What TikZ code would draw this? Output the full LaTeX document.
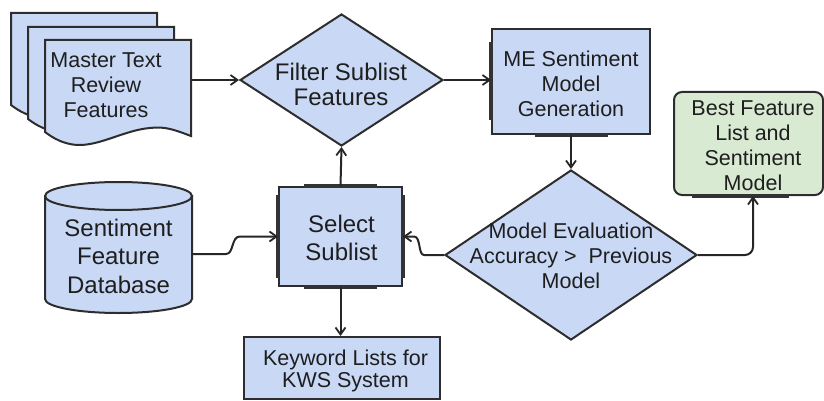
\documentclass[tikz,border=0pt]{standalone}
\usepackage{fontspec}
\setmainfont{Liberation Sans}
\usetikzlibrary{shapes.geometric,arrows.meta}
\definecolor{boxblue}{RGB}{201,216,245}
\definecolor{boxgreen}{RGB}{217,234,211}
\definecolor{edgecol}{RGB}{45,45,45}
\definecolor{txtcol}{RGB}{30,30,30}
\newcommand\docpage[2]{%
  \path[shapeline, fill=boxblue, shift={(#1,#2)}]
    (0,0) -- (146,0) -- (146,96)
    .. controls (130,90) and (120,86) .. (105,88)
    .. controls (80,90) and (55,106) .. (32,105)
    .. controls (18,104) and (8,98) .. (0,92) -- cycle;}
\begin{document}
\begin{tikzpicture}[x=1pt,y=-1pt,
  shapeline/.style={draw=edgecol, line width=2pt},
  bluebox/.style={shapeline, fill=boxblue, rectangle, inner sep=0pt},
  bluediamond/.style={shapeline, fill=boxblue, diamond, inner sep=0pt},
  txtA/.style={align=center, font=\fontsize{21.5}{25}\selectfont, inner sep=0pt, text=txtcol},
  txtB/.style={align=center, font=\fontsize{24}{27}\selectfont, inner sep=0pt, text=txtcol},
  conn/.style={draw=black!85, line width=2pt, -{Straight Barb[length=7pt,width=10pt,line width=1.8pt]}},
  bar/.style={draw=black!80, line width=3.5pt}
]
\path[use as bounding box] (0,0) rectangle (824,401);
\clip (0,0) rectangle (824,401);

% multi-document
\docpage{11}{13}
\docpage{28}{27}
\docpage{45}{40}
\node[inner sep=0pt, minimum width=146pt, minimum height=92pt] (master) at (118,86) {};
\node[txtA] (mastert) at (106,85) {Master Text\\Review\\Features};

% filter diamond
\node[bluediamond, minimum width=203pt, minimum height=132pt] (filter) at (341.5,80) {};
\node[txtB, font=\fontsize{24}{25}\selectfont] (filtert) at (341,84) {Filter Sublist\\Features};

% ME box
\node[bluebox, minimum width=158pt, minimum height=105pt] (me) at (571,81.5) {};
\node[txtA] (met) at (571,84) {ME Sentiment\\Model\\Generation};

% evaluation diamond
\node[bluediamond, minimum width=252pt, minimum height=170pt] (eval) at (571,255) {};
\node[txtA] (evalt) at (571,255.5) {Model Evaluation\\Accuracy >\ \ Previous\\Model};

% best box
\node[shapeline, fill=boxgreen, rectangle, rounded corners=8pt, inner sep=0pt,
      minimum width=149pt, minimum height=103pt] (best) at (748.5,143.5) {};
\node[txtA] (bestt) at (753,146) {Best Feature\\List and\\Sentiment\\Model};

% database cylinder
\path[shapeline, fill=boxblue] (45,196) -- (45,299)
  arc[start angle=180, end angle=0, x radius=73.5, y radius=14] -- (192,196) -- cycle;
\path[shapeline, fill=boxblue] (118.5,196) ellipse[x radius=73.5, y radius=14];
\node[inner sep=0pt, minimum width=147pt, minimum height=131pt] (db) at (118.5,247.5) {};
\node[txtB, font=\fontsize{24}{28.5}\selectfont] (dbt) at (118.5,256) {Sentiment\\Feature\\Database};

% select box
\node[bluebox, minimum width=123pt, minimum height=99pt] (sel) at (340.5,236.5) {};
\node[txtB, font=\fontsize{24}{28}\selectfont] (selt) at (341.5,238) {Select\\Sublist};

% keyword box
\node[bluebox, minimum width=196pt, minimum height=62pt] (kws) at (342,368) {};
\node[txtA, font=\fontsize{21.5}{22}\selectfont] (kwst) at (345.5,371) {Keyword Lists for\\KWS System};

% thick bars
\draw[bar] ([yshift=39pt]me.west) -- ([yshift=-39pt]me.west);
\draw[bar] ([xshift=-36pt]me.south) -- ([xshift=37pt]me.south);
\draw[bar] ([xshift=-56.5pt]best.south) -- ([xshift=40.5pt]best.south);
\draw[bar] ([xshift=-36.5pt]sel.north) -- ([xshift=36.5pt]sel.north);
\draw[bar] ([xshift=-36.5pt]sel.south) -- ([xshift=36.5pt]sel.south);
\draw[bar] ([yshift=41.5pt]sel.west) -- ([yshift=-41.5pt]sel.west);
\draw[bar] ([yshift=41.5pt]sel.east) -- ([yshift=-41.5pt]sel.east);

% connectors
\draw[conn] (filter.west -| master.east) -- (filter.west);
\draw[conn] (filter.east) -- (filter.east -| me.west);
\draw[conn] (me.south) -- (eval.north);
\draw[conn] (sel.north) -- (filter.south);
\draw[conn] (sel.south) -- (sel.south |- kws.north);
\draw[conn] ([yshift=-6.5pt]db.east) -- (226,254)
  .. controls (234,254) and (231,236.5) .. (240,236.5) -- (sel.west);
\draw[conn] (eval.west) -- (424,255)
  .. controls (418,255) and (421,236.5) .. (414,236.5) -- (sel.east);
\draw[conn, rounded corners=8pt] (eval.east) -| ([xshift=4.5pt]best.south);
\end{tikzpicture}
\end{document}
